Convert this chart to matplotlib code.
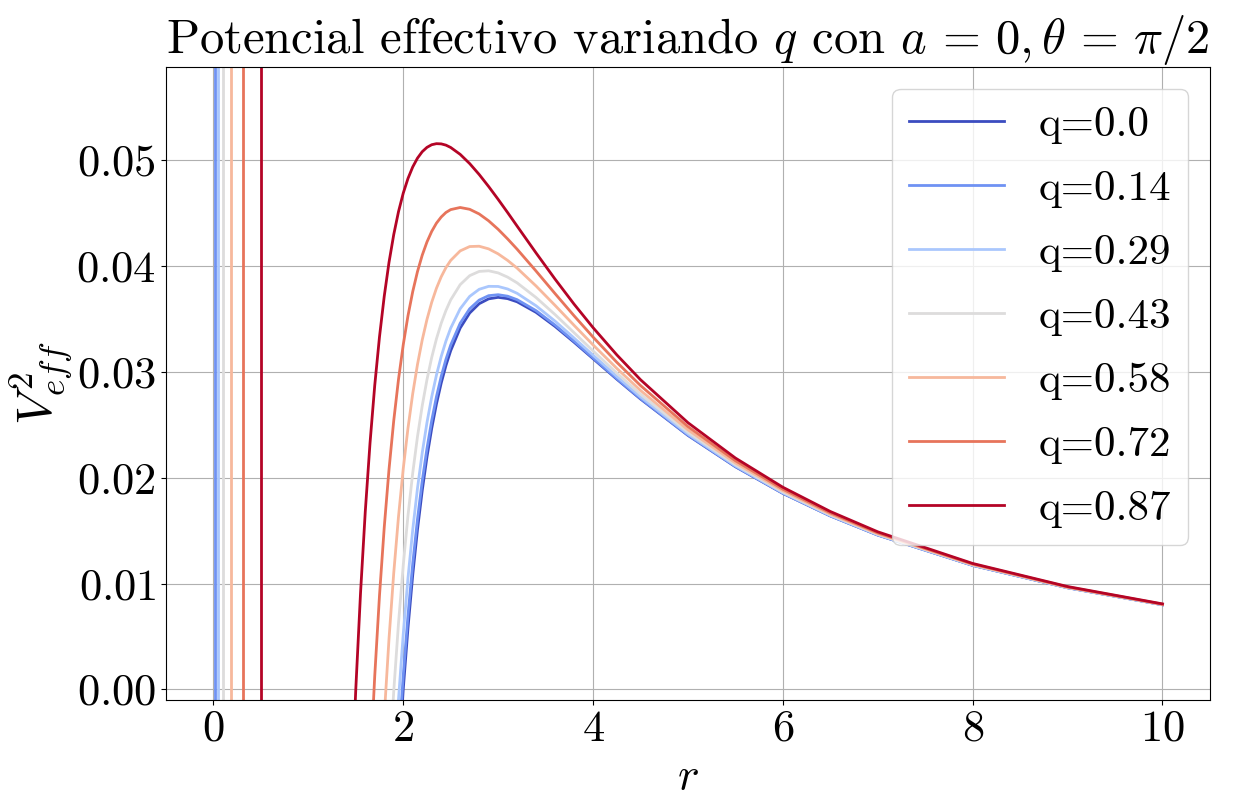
import matplotlib
matplotlib.use("Agg")
import matplotlib.pyplot as plt
import numpy as np

plt.rcParams['font.family'] = 'serif'
plt.rcParams['font.serif'] = ['cmr10']
plt.rcParams['mathtext.fontset'] = 'cm'
plt.rcParams['axes.formatter.use_mathtext'] = True

# radial grid of the outer branch
r = [1.45, 1.5, 1.55, 1.6, 1.65, 1.7, 1.75, 1.8, 1.85, 1.9, 1.95, 2.0, 2.05, 2.1, 2.15,
     2.2, 2.25, 2.3, 2.35, 2.4, 2.45, 2.5, 2.6, 2.7, 2.8, 2.9, 3.0, 3.1, 3.2, 3.4, 3.6,
     3.8, 4.0, 4.25, 4.5, 5.0, 5.5, 6.0, 6.5, 7.0, 8.0, 9.0, 10.0]

q_labels = ['0.0', '0.14', '0.29', '0.43', '0.58', '0.72', '0.87']

v_q000 = [-0.18041, -0.14815, -0.12084, -0.09766, -0.07792, -0.06106, -0.04665, -0.03429,
          -0.02369, -0.01458, -0.00674, 0.0, 0.00580, 0.01080, 0.01509, 0.01878, 0.02195,
          0.02466, 0.02697, 0.02894, 0.03060, 0.03200, 0.03414, 0.03556, 0.03644, 0.03690,
          0.03704, 0.03692, 0.03662, 0.03562, 0.03429, 0.03280, 0.03125, 0.02931, 0.02744,
          0.02400, 0.02104, 0.01852, 0.01639, 0.01458, 0.01172, 0.00960, 0.00800]
v_q014 = [-0.17570, -0.14403, -0.11723, -0.09448, -0.07510, -0.05857, -0.04443, -0.03231,
          -0.02191, -0.01298, -0.00530, 0.00130, 0.00698, 0.01187, 0.01607, 0.01967, 0.02276,
          0.02540, 0.02765, 0.02956, 0.03118, 0.03253, 0.03459, 0.03596, 0.03678, 0.03720,
          0.03729, 0.03715, 0.03682, 0.03578, 0.03442, 0.03290, 0.03133, 0.02937, 0.02749,
          0.02403, 0.02106, 0.01854, 0.01640, 0.01459, 0.01172, 0.00961, 0.00800]
v_q029 = [-0.16156, -0.13169, -0.10640, -0.08494, -0.06667, -0.05108, -0.03776, -0.02636,
          -0.01658, -0.00819, -0.00098, 0.00521, 0.01052, 0.01508, 0.01899, 0.02234, 0.02520,
          0.02764, 0.02970, 0.03145, 0.03291, 0.03413, 0.03596, 0.03713, 0.03780, 0.03808,
          0.03807, 0.03783, 0.03742, 0.03624, 0.03479, 0.03320, 0.03158, 0.02957, 0.02764,
          0.02413, 0.02113, 0.01858, 0.01643, 0.01461, 0.01174, 0.00962, 0.00801]
v_q043 = [-0.13799, -0.11111, -0.08836, -0.06905, -0.05262, -0.03861, -0.02666, -0.01643,
          -0.00768, -0.00019, 0.00623, 0.01172, 0.01642, 0.02044, 0.02387, 0.02679, 0.02926,
          0.03136, 0.03312, 0.03459, 0.03580, 0.03680, 0.03824, 0.03909, 0.03949, 0.03955,
          0.03935, 0.03895, 0.03841, 0.03702, 0.03541, 0.03370, 0.03198, 0.02989, 0.02789,
          0.02430, 0.02124, 0.01866, 0.01649, 0.01466, 0.01177, 0.00963, 0.00802]
v_q058 = [-0.10500, -0.08230, -0.06309, -0.04679, -0.03294, -0.02115, -0.01111, -0.00254,
          0.00477, 0.01100, 0.01631, 0.02083, 0.02468, 0.02794, 0.03069, 0.03301, 0.03495,
          0.03657, 0.03790, 0.03898, 0.03985, 0.04053, 0.04143, 0.04184, 0.04187, 0.04162,
          0.04115, 0.04053, 0.03980, 0.03811, 0.03628, 0.03440, 0.03255, 0.03033, 0.02825,
          0.02453, 0.02140, 0.01878, 0.01657, 0.01472, 0.01180, 0.00965, 0.00803]
v_q072 = [-0.06259, -0.04527, -0.03061, -0.01818, -0.00765, 0.00130, 0.00889, 0.01532,
          0.02077, 0.02539, 0.02928, 0.03255, 0.03530, 0.03758, 0.03947, 0.04102, 0.04227,
          0.04327, 0.04405, 0.04463, 0.04506, 0.04533, 0.04553, 0.04536, 0.04492, 0.04427,
          0.04347, 0.04256, 0.04159, 0.03952, 0.03739, 0.03530, 0.03329, 0.03091, 0.02871,
          0.02483, 0.02161, 0.01892, 0.01668, 0.01479, 0.01185, 0.00968, 0.00805]
v_q087 = [-0.01074, 0.0, 0.00910, 0.01679, 0.02327, 0.02874, 0.03332, 0.03715,
          0.04034, 0.04297, 0.04513, 0.04688, 0.04827, 0.04936, 0.05019, 0.05080, 0.05121,
          0.05146, 0.05156, 0.05154, 0.05142, 0.05120, 0.05055, 0.04968, 0.04865, 0.04751,
          0.04630, 0.04505, 0.04377, 0.04123, 0.03876, 0.03640, 0.03418, 0.03161, 0.02926,
          0.02520, 0.02186, 0.01910, 0.01681, 0.01489, 0.01190, 0.00972, 0.00808]

# inner horizon where each potential shoots up (None: no inner branch)
r_inner = [None, 0.02, 0.05, 0.097, 0.183, 0.307, 0.5]

series = [v_q000, v_q014, v_q029, v_q043, v_q058, v_q072, v_q087]
colors = plt.cm.coolwarm(np.linspace(0, 1, len(series)))

fig = plt.figure(figsize=(12.33, 7.97), dpi=100)
ax = fig.add_axes([0.1346, 0.1217, 0.8467, 0.7942])

for v, lab, ri, c in zip(series, q_labels, r_inner, colors):
    ax.plot(r, v, color=c, lw=2, label='q=' + lab)
    if ri is not None:
        ax.axvline(ri, color=c, lw=2)

ax.set_xlim(-0.5, 10.5)
ax.set_ylim(-0.001, 0.0588)
ax.grid(True)
ax.tick_params(labelsize=32)
ax.set_xlabel('$r$', fontsize=33, labelpad=5)
ax.set_ylabel('$V^2_{eff}$', fontsize=36, labelpad=2)
ax.set_title(r'Potencial effectivo variando $q$ con $a\,=\,0, \theta\,=\,\pi/2$',
             fontsize=35, pad=8)
ax.legend(loc='upper right', fontsize=31, labelspacing=0.6, handlelength=2.2)

plt.savefig('out.png')
plt.close()
